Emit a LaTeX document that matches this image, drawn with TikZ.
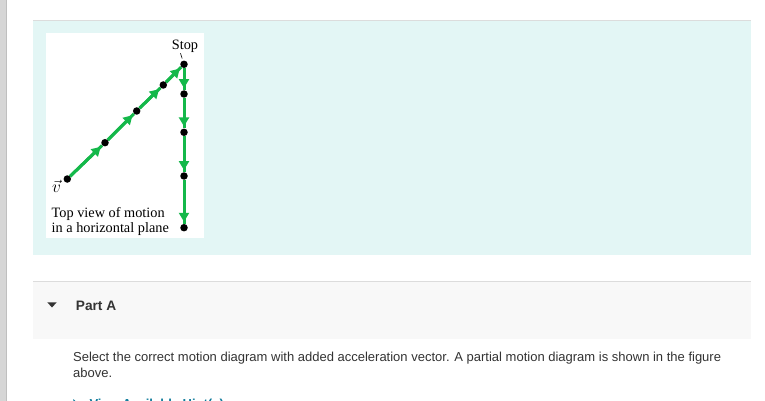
\documentclass[tikz,border=0pt]{standalone}
\usepackage{fontspec}
\setmainfont{Liberation Sans}
\newfontfamily\figfont{Liberation Serif}
\usetikzlibrary{arrows.meta}

\definecolor{panelcyan}{HTML}{E3F6F5}
\definecolor{partgray}{HTML}{F8F8F8}
\definecolor{rulegray}{HTML}{DCDCDC}
\definecolor{bargray}{HTML}{D6D6D6}
\definecolor{motiongreen}{HTML}{14B84A}
\definecolor{bodytext}{HTML}{333333}
\definecolor{hintteal}{HTML}{0C7A9A}

\tikzset{
	dot/.style={circle,fill=black,inner sep=0pt,minimum size=7.5pt},
	seg/.style={draw=motiongreen,line width=3pt},
	segtip/.style={seg,-{Triangle[length=9pt,width=10pt]},shorten >=2pt},
	figtext/.style={font=\figfont\fontsize{14.3}{15}\selectfont,inner sep=0pt},
	uitext/.style={font=\fontsize{13}{16}\selectfont,text=bodytext,inner sep=0pt}
}

\begin{document}
\begin{tikzpicture}[x=1pt,y=-1pt]
		\clip (0,0) rectangle (765,401);
		\fill[white] (0,0) rectangle (765,401);
		
		% page frame
		\fill[bargray] (0,0) rectangle (6,401);
		\draw[black!25] (6,0) -- (6,401);
		\fill[panelcyan] (33,20) rectangle (751,255);
		\draw[rulegray] (33,20.5) -- (751,20.5);
		\fill[white] (46,33.5) rectangle (203.5,237.5);
		
		% motion dots
		\foreach \p [count=\i from 0] in {(67.3,179),(105,142.7),(136.7,111),(163.3,85),(184,64.3),(184,94),(184,132.3),(184,176),(184,227.7)}
			\node[dot] (m\i) at \p {};
		\foreach \a/\b in {0/1,1/2,2/3,3/4,4/5,5/6,6/7,7/8} {
			\draw[seg] (m\a) -- (m\b);
			\draw[segtip] (m\a) -- (m\b);
		}
		
		% labels of the figure
		\node[figtext,anchor=base] (stop) at (185,50) {Stop};
		\draw[line width=0.6pt,shorten >=2pt] ([xshift=-4.5pt]stop.south) -- (m4);
		\node[figtext,font=\fontsize{16}{16}\selectfont] (vel) at (56.5,186) {$\vec{v}$};
		\node[figtext,anchor=base west] (cap1) at (51.5,217.3) {Top view of motion};
		\node[figtext,anchor=base west] (cap2) at (51.5,232.3) {in a horizontal plane};
		
		% Part A header
		\fill[partgray] (33,281) rectangle (751,338.5);
		\draw[rulegray] (33,281.5) -- (751,281.5);
		\fill[bodytext] (47.3,302.3) -- (56.7,302.3) -- (52,307.5) -- cycle;
		\node[uitext,font=\bfseries\fontsize{13.7}{16}\selectfont,anchor=base west] (parta) at (75.7,310) {Part A};
		
		\node[uitext,anchor=base west] (ask1) at (73,361.5) {Select the correct motion diagram with added acceleration vector. A partial motion diagram is shown in the figure};
		\node[uitext,anchor=base west] (ask2) at (73,377.5) {above.};
		
		\fill[hintteal] (73.3,399) -- (77.5,403) -- (73.3,407) -- cycle;
		\node[uitext,text=hintteal,font=\bfseries\fontsize{13}{16}\selectfont,anchor=base west] (hint) at (89.3,408.6) {View Available Hint(s)};
		
	\end{tikzpicture}
\end{document}
